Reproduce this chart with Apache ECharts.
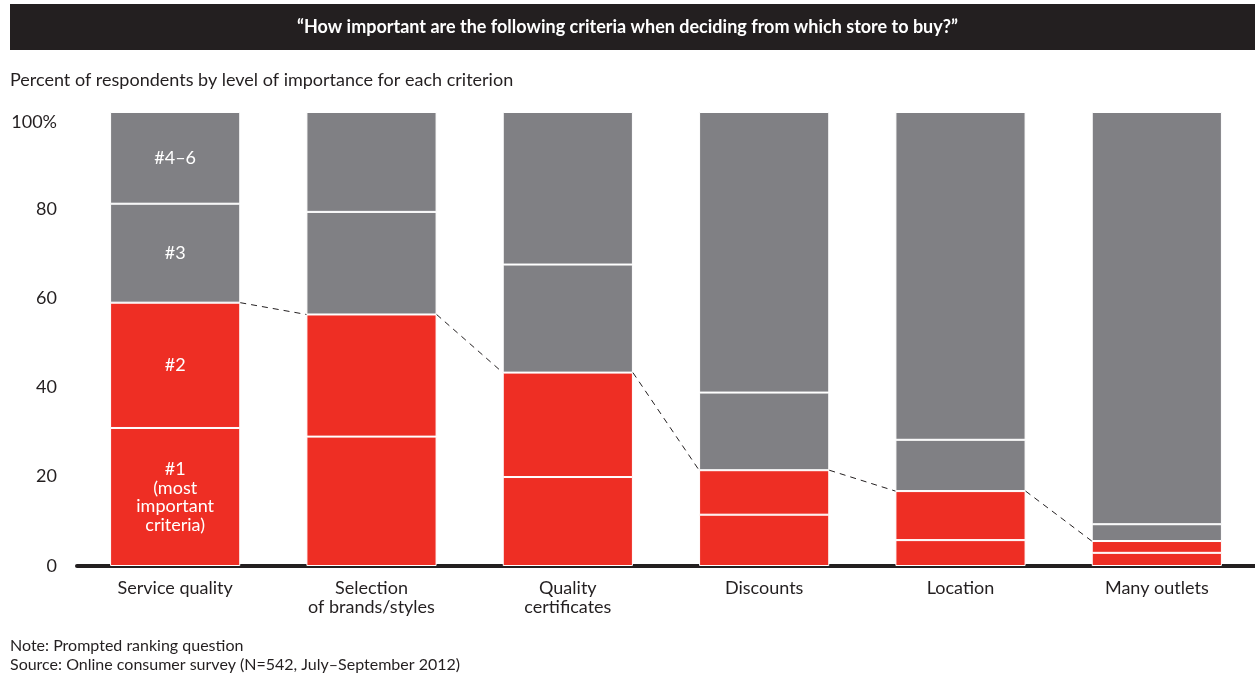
<!DOCTYPE html>
<html><head><meta charset="utf-8">
<script src="https://cdn.jsdelivr.net/npm/echarts@6/dist/echarts.min.js"></script>
<style>html,body{margin:0;padding:0;background:#fff}#c{width:1255px;height:676px}</style>
</head><body><div id="c"></div>
<script>
const categories = ['Service quality', 'Selection\nof brands/styles', 'Quality\ncertificates', 'Discounts', 'Location', 'Many outlets'];
const rank1 = [30.4, 28.5, 19.6, 11.3, 5.7, 2.9];
const rank2 = [27.6, 26.9, 23.0, 9.8, 10.8, 2.6];
const rank3 = [21.8, 22.6, 23.8, 17.1, 11.3, 3.7];
const rank4to6 = [20.2, 22.0, 33.6, 61.8, 72.2, 90.8];
const segmentNames = ['#1\n(most\nimportant\ncriteria)', '#2', '#3', '#4–6'];
const yTicks = ['0', '20', '40', '60', '80', '100%'];

const FONT = 'Lato';
const RED = '#EE2E24', GREY = '#808084';
const BAR_FRAC = 0.663;
const labelShift = [0, 1, 3, 5, 6, 10];

const redTops = rank1.map((v, i) => v + rank2[i]);
const linkData = [];
for (let i = 0; i < categories.length - 1; i++) linkData.push([i, redTops[i], redTops[i + 1]]);

function barSeries(name, data, color, labelText) {
  return {
    name: name, type: 'bar', stack: 'total', data: data,
    barWidth: (BAR_FRAC * 100) + '%',
    itemStyle: { color: color, borderColor: '#fff', borderWidth: 1 },
    label: {
      show: true, position: 'inside', color: '#fff', fontFamily: FONT, fontSize: 18, lineHeight: 18.5,
      formatter: p => p.dataIndex === 0 ? labelText : ''
    },
    z: 2
  };
}

const rich = {};
labelShift.forEach((s, i) => {
  rich['t' + i] = { color: '#231f20', fontSize: 18, fontFamily: FONT, padding: [2 * s, 0, 0, 0] };
});

const chart = echarts.init(document.getElementById('c'), null, { renderer: 'canvas' });
chart.setOption({
  animation: false,
  textStyle: { fontFamily: FONT },
  grid: { left: 77, right: 0, top: 112, bottom: 110, containLabel: false },
  xAxis: {
    type: 'category', data: categories,
    axisLine: { show: true, lineStyle: { color: '#231f20', width: 4 } },
    axisTick: { show: false },
    axisLabel: { color: '#231f20', fontSize: 18, fontFamily: FONT, margin: 13, lineHeight: 19, interval: 0 }
  },
  yAxis: {
    type: 'value', min: 0, max: 100, interval: 20,
    axisLine: { show: false }, axisTick: { show: false }, splitLine: { show: false },
    axisLabel: { color: '#231f20', fontSize: 18, fontFamily: FONT, margin: 20, rich: rich,
      formatter: v => { const k = Math.round(v / 20); return '{t' + k + '|' + yTicks[k] + '}'; } }
  },
  series: [
    barSeries('#1', rank1, RED, segmentNames[0]),
    barSeries('#2', rank2, RED, segmentNames[1]),
    barSeries('#3', rank3, GREY, segmentNames[2]),
    barSeries('#4–6', rank4to6, GREY, segmentNames[3]),
    {
      type: 'custom', data: linkData, z: 5,
      renderItem: function (params, api) {
        const half = api.size([1, 0])[0] * BAR_FRAC / 2;
        const a = api.coord([api.value(0), api.value(1)]);
        const b = api.coord([api.value(0) + 1, api.value(2)]);
        return {
          type: 'line',
          shape: { x1: a[0] + half, y1: a[1], x2: b[0] - half, y2: b[1] },
          style: { stroke: '#231f20', lineWidth: 1, lineDash: [6, 5], fill: null }
        };
      }
    }
  ],
  graphic: [
    { type: 'rect', left: 10, top: 4, shape: { width: 1245, height: 46 }, style: { fill: '#231f20' }, z: 10 },
    { type: 'text', left: 'center', top: 18, style: { text: '“How important are the following criteria when deciding from which store to buy?”', fill: '#fff', fontFamily: FONT, fontWeight: 'bold', fontSize: 18 }, z: 11 },
    { type: 'text', left: 10, top: 71, style: { text: 'Percent of respondents by level of importance for each criterion', fill: '#231f20', fontFamily: FONT, fontSize: 18 } },
    { type: 'text', left: 10, top: 638, style: { text: 'Note: Prompted ranking question', fill: '#231f20', fontFamily: FONT, fontSize: 16 } },
    { type: 'text', left: 10, top: 657, style: { text: 'Source: Online consumer survey (N=542, July–September 2012)', fill: '#231f20', fontFamily: FONT, fontSize: 16 } }
  ]
});
</script></body></html>
